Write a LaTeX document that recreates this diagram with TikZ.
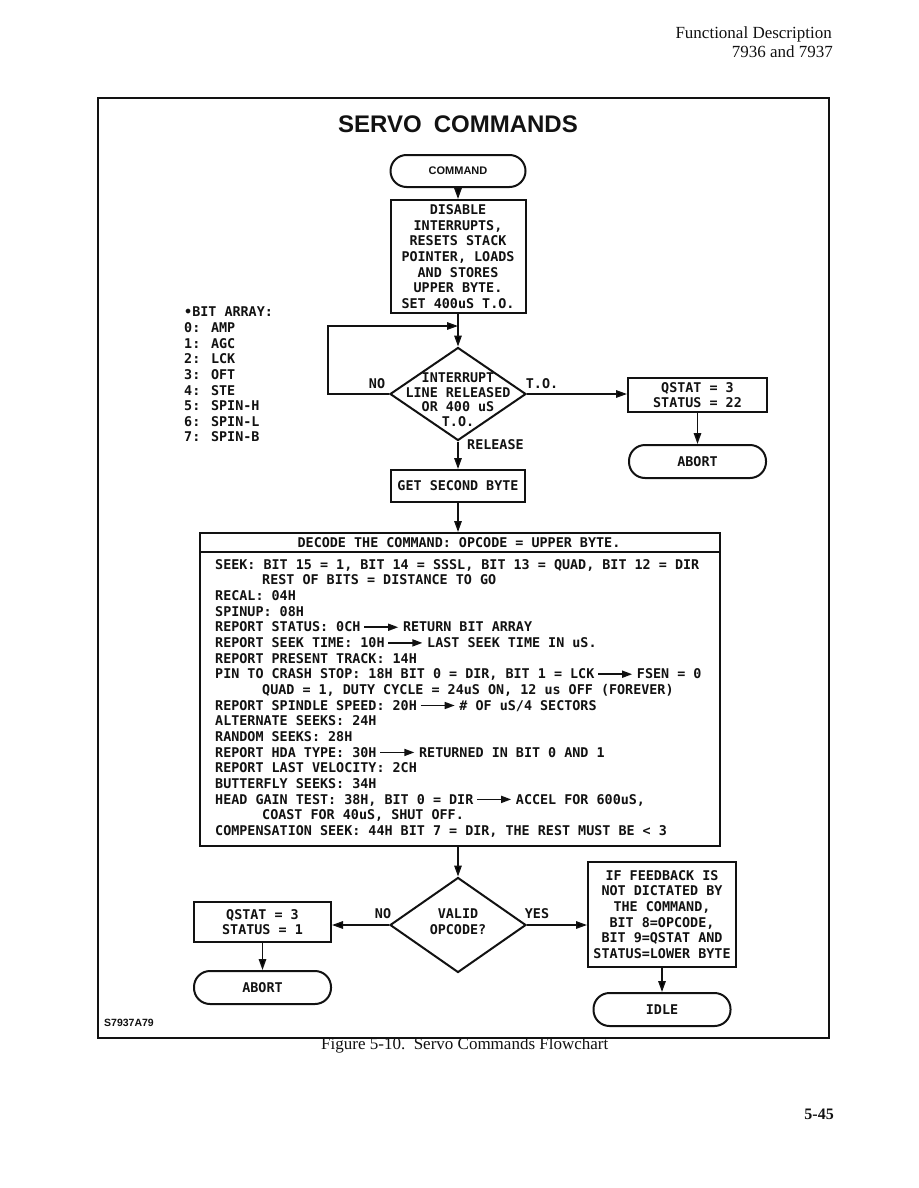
\documentclass[tikz,border=0pt]{standalone}
\usepackage{fontspec}
\setmainfont{Liberation Serif}
\newfontfamily\leroy{DejaVu Sans Mono}
\newfontfamily\helv{Liberation Sans}
\usepackage{tikz}
\usetikzlibrary{arrows.meta,positioning,shapes.geometric}
\definecolor{ink}{RGB}{18,18,18}
\newcommand{\leroytxt}{\leroy\bfseries\fontsize{13.4}{15.65}\selectfont}
\newcommand{\txtarr}{\kern3pt\tikz[x=1pt,y=1pt,baseline=-4.6pt]\draw[ink,line width=1.6pt,-{Triangle[length=10pt,width=7pt]}] (0,0) -- (34,0);\kern4pt}
\tikzset{
  termbox/.style={rectangle, rounded corners=16pt, draw=ink, line width=2pt,
                  minimum height=33pt, minimum width=137pt, inner sep=2pt,
                  font=\leroytxt, text=ink},
  procbox/.style={rectangle, draw=ink, line width=2pt, align=center,
                  inner sep=3pt, font=\leroytxt, text=ink},
  decision/.style={diamond, draw=ink, line width=2pt, inner sep=0pt,
                   minimum width=136pt, minimum height=93pt},
  arr/.style={-{Triangle[length=11pt,width=7.5pt]}, line width=1.5pt, draw=ink},
  lbl/.style={font=\leroytxt, inner sep=0pt, text=ink, align=center},
  pagetxt/.style={font=\fontsize{17}{20}\selectfont, inner sep=0pt, text=ink},
}

\begin{document}
\begin{tikzpicture}[x=1pt, y=-1pt]
  \useasboundingbox[fill=white] (0,0) rectangle (918,1188);
  % page header, frame and title
  \node[pagetxt, anchor=base east] (hdrtop) at (832,39) {Functional Description};
  \node[pagetxt, anchor=base east] (hdrbot) at (833,57.3) {7936 and 7937};
  \draw[ink, line width=1.6pt] (98,98) rectangle (829,1038);
  \node[font=\helv\bfseries\fontsize{24}{28}\selectfont, text=ink, inner sep=0pt] (title) at (458,124) {SERVO\hspace{0.5em}COMMANDS};
  % main column
  \node[termbox, minimum width=135pt, minimum height=32pt, font=\helv\bfseries\fontsize{11}{13}\selectfont] (cmd) at (458,171) {COMMAND};
  \node[procbox, minimum width=135pt, minimum height=113pt] (disable) at (458,256.5) {DISABLE\\INTERRUPTS,\\RESETS STACK\\POINTER, LOADS\\AND STORES\\UPPER BYTE.\\SET 400uS T.O.};
  \node[decision] (waitirq) at (458,394) {};
  \node[lbl, font=\leroy\bfseries\fontsize{13.4}{14.5}\selectfont] (waittxt) at (458,399.5) {INTERRUPT\\LINE RELEASED\\OR 400 uS\\T.O.};
  \node[procbox, minimum width=139pt, minimum height=34pt] (qstatto) at (697.5,395) {QSTAT = 3\\STATUS = 22};
  \node[termbox, below=31pt of qstatto] (abortto) {ABORT};
  \node[procbox, minimum width=134pt, minimum height=32pt] (getbyte) at (458,486) {GET SECOND BYTE};
  % bit array note
  \node[lbl, anchor=north west, align=left] (bitarray) at (184,306.8) {•BIT ARRAY:\\0: AMP\\1: AGC\\2: LCK\\3: OFT\\4: STE\\5: SPIN-H\\6: SPIN-L\\7: SPIN-B};
  % decode table
  \node[procbox, minimum width=520pt, minimum height=313pt] (decode) at (460,689.5) {};
  \node[lbl] (dechead) at (459,543) {DECODE THE COMMAND: OPCODE = UPPER BYTE.};
  \draw[ink, line width=1.6pt] ([yshift=-20pt]decode.north west) -- ([yshift=-20pt]decode.north east);
  \node[lbl, anchor=north west, align=left] (decbody) at (215,559.1) {SEEK: BIT 15 = 1, BIT 14 = SSSL, BIT 13 = QUAD, BIT 12 = DIR\\
    \hspace*{47pt}REST OF BITS = DISTANCE TO GO\\
    RECAL: 04H\\
    SPINUP: 08H\\
    REPORT STATUS: 0CH\txtarr RETURN BIT ARRAY\\
    REPORT SEEK TIME: 10H\txtarr LAST SEEK TIME IN uS.\\
    REPORT PRESENT TRACK: 14H\\
    PIN TO CRASH STOP: 18H BIT 0 = DIR, BIT 1 = LCK\txtarr FSEN = 0\\
    \hspace*{47pt}QUAD = 1, DUTY CYCLE = 24uS ON, 12 us OFF (FOREVER)\\
    REPORT SPINDLE SPEED: 20H\txtarr \# OF uS/4 SECTORS\\
    ALTERNATE SEEKS: 24H\\
    RANDOM SEEKS: 28H\\
    REPORT HDA TYPE: 30H\txtarr RETURNED IN BIT 0 AND 1\\
    REPORT LAST VELOCITY: 2CH\\
    BUTTERFLY SEEKS: 34H\\
    HEAD GAIN TEST: 38H, BIT 0 = DIR\txtarr ACCEL FOR 600uS,\\
    \hspace*{47pt}COAST FOR 40uS, SHUT OFF.\\
    COMPENSATION SEEK: 44H BIT 7 = DIR, THE REST MUST BE < 3};
  % opcode check
  \node[decision, minimum height=95pt] (validop) at (458,925) {};
  \node[lbl, font=\leroy\bfseries\fontsize{13.4}{15.7}\selectfont] (validtxt) at (458,922) {VALID\\OPCODE?};
  \node[procbox, minimum width=137pt, minimum height=40pt] (qstatbad) at (262.5,922) {QSTAT = 3\\STATUS = 1};
  \node[termbox, below=27pt of qstatbad] (abortbad) {ABORT};
  \node[procbox, minimum width=148pt, minimum height=105pt] (feedback) at (662,914.5) {IF FEEDBACK IS\\NOT DICTATED BY\\THE COMMAND,\\BIT 8=OPCODE,\\BIT 9=QSTAT AND\\STATUS=LOWER BYTE};
  \node[termbox, below=24pt of feedback] (idle) {IDLE};
  % branch labels
  \node[lbl] (nolbl) at (377,384) {NO};
  \node[lbl] (tolbl) at (542,384) {T.O.};
  \node[lbl, anchor=west] (rellbl) at (467,445) {RELEASE};
  \node[lbl] (nobad) at (383,914) {NO};
  \node[lbl] (yesok) at (537,914) {YES};
  % connectors
  \coordinate (loopin) at (458,326);
  \draw[arr] (cmd) -- (disable);
  \draw[arr] (disable) -- (waitirq);
  \draw[arr] (waitirq.west) -- ++(-61,0) |- (loopin);
  \draw[arr] (waitirq.east) -- (waitirq.east -| qstatto.west);
  \draw[arr] (qstatto) -- (abortto);
  \draw[arr] (waitirq) -- (getbyte);
  \draw[arr] (getbyte) -- (getbyte |- decode.north);
  \draw[arr] (decode.south -| validop.north) -- (validop);
  \draw[arr] (validop.west) -- (validop.west -| qstatbad.east);
  \draw[arr] (validop.east) -- (validop.east -| feedback.west);
  \draw[arr] (qstatbad) -- (abortbad);
  \draw[arr] (feedback) -- (idle);
  % drawing number, caption, page
  \node[font=\helv\bfseries\fontsize{10.5}{12}\selectfont, text=ink, anchor=west, inner sep=0pt] (figno) at (104,1023) {S7937A79};
  \node[pagetxt, anchor=base west] (caption) at (321,1049) {Figure 5-10.\ \ Servo Commands Flowchart};
  \node[pagetxt, font=\bfseries\fontsize{16}{19}\selectfont, anchor=base east] (pageno) at (834,1119) {5-45};
\end{tikzpicture}
\end{document}
